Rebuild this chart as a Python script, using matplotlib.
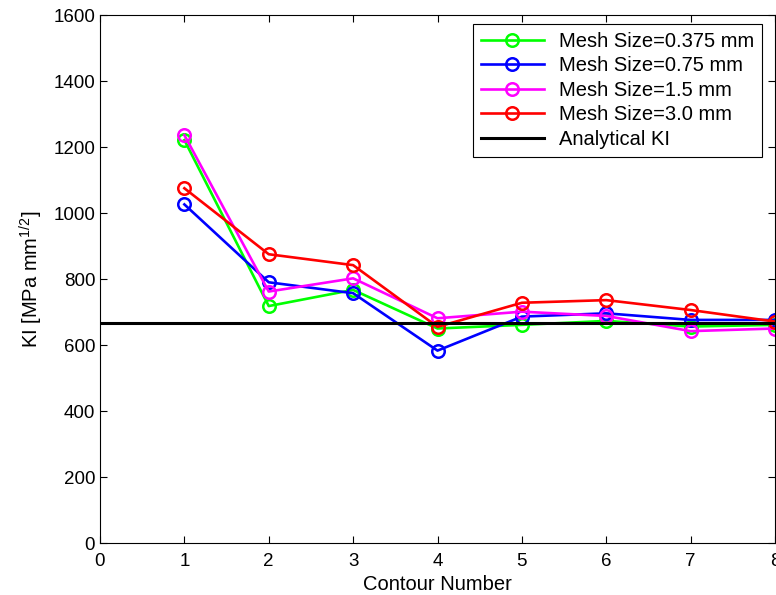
import numpy as np
import matplotlib
matplotlib.use("Agg")
import matplotlib.pyplot as plt

plt.rcParams.update({
    "font.family": ["Liberation Sans", "DejaVu Sans"],
    "font.size": 13.5,
    "mathtext.fontset": "custom", "mathtext.rm": "Liberation Sans",
    "mathtext.it": "Liberation Sans", "mathtext.default": "rm",
})

contour = [1, 2, 3, 4, 5, 6, 7, 8]
ki_0375 = [1221, 718, 767, 650, 661, 673, 656, 661]
ki_075 = [1026, 790, 757, 583, 686, 696, 676, 676]
ki_15 = [1236, 762, 802, 681, 701, 688, 642, 650]
ki_30 = [1075, 875, 842, 655, 728, 736, 706, 671]
ki_analytical = 666

series = [
    (ki_0375, "#00ff00", "Mesh Size=0.375 mm"),
    (ki_075, "#0000ff", "Mesh Size=0.75 mm"),
    (ki_15, "#ff00ff", "Mesh Size=1.5 mm"),
    (ki_30, "#ff0000", "Mesh Size=3.0 mm"),
]

fig = plt.figure(figsize=(7.76, 5.95), dpi=100)
ax = fig.add_axes([100 / 776, 1 - 543 / 595, 675 / 776, 528 / 595])

for vals, col, lab in series:
    ax.plot(contour, vals, color=col, lw=1.9, marker="o", ms=9,
            mfc="none", mec=col, mew=1.8, label=lab)
ax.axhline(ki_analytical, color="black", lw=2.2, label="Analytical KI")

ax.set_xlim(0, 8)
ax.set_ylim(0, 1600)
ax.set_xticks(range(0, 9))
ax.set_yticks(range(0, 1601, 200))
ax.tick_params(direction="in", top=True, right=True, length=5, width=0.8,
               labelsize=13.5)
ax.tick_params(axis="x", pad=7)
ax.set_xlabel("Contour Number", fontsize=14.5, labelpad=4)
ax.set_ylabel(r"KI [MPa mm$^{1/2}$]", fontsize=14.5, labelpad=6)

# legend box pinned to the reference position (figure coords)
leg = ax.legend(loc="upper right", bbox_to_anchor=(762 / 776, 1 - 24 / 595),
                bbox_transform=fig.transFigure, borderaxespad=0,
                fontsize=14.5, handlelength=3.1, handletextpad=0.75,
                labelspacing=0.27, fancybox=False, edgecolor="black",
                framealpha=1, borderpad=0.4)
leg.get_frame().set_linewidth(0.8)

fig.savefig("out.png", dpi=100)
